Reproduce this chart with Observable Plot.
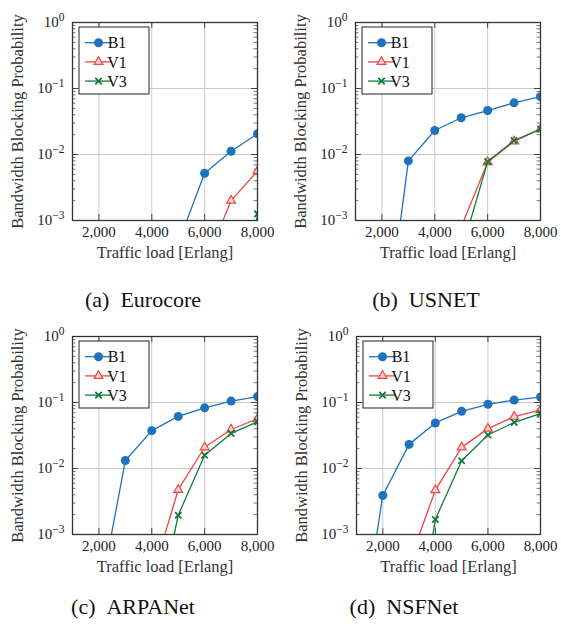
<!DOCTYPE html>
<html><head><meta charset="utf-8">
<script src="https://cdn.jsdelivr.net/npm/d3@7"></script>
<script src="https://cdn.jsdelivr.net/npm/@observablehq/plot@0.6"></script>
</head><body style="margin:0;background:#fff"><div id="root" style="position:relative;width:561px;height:629px;overflow:hidden"></div>
<script>
// ---- data ----
const loads = [1000, 2000, 3000, 4000, 5000, 6000, 7000, 8000];
const seriesNames = ["B1", "V1", "V3"];
const seriesColors = ["#1f72be", "#ef4545", "#137a3a"];
const xTicks = [2000, 4000, 6000, 8000];
const yTicks = [1e-3, 1e-2, 1e-1, 1];
const yMinor = [0.002,0.003,0.004,0.005,0.006,0.007,0.008,0.009,
                0.02,0.03,0.04,0.05,0.06,0.07,0.08,0.09,
                0.2,0.3,0.4,0.5,0.6,0.7,0.8,0.9];

const eurocoreB1 = [null, null, null, null, 4.5e-4, 5.2e-3, 1.12e-2, 2.06e-2];
const eurocoreV1 = [null, null, null, null, null, 2.1e-4, 2.0e-3, 5.6e-3];
const eurocoreV3 = [null, null, null, null, null, null, 1e-6, 1.26e-3];

const usnetB1 = [null, 7e-6, 8.0e-3, 2.31e-2, 3.6e-2, 4.64e-2, 6.07e-2, 7.57e-2];
const usnetV1 = [null, null, null, null, 8e-4, 7.65e-3, 1.58e-2, 2.42e-2];
const usnetV3 = [null, null, null, null, 3.3e-4, 7.8e-3, 1.63e-2, 2.43e-2];

const arpanetB1 = [null, 1e-4, 1.32e-2, 3.74e-2, 6.15e-2, 8.3e-2, 1.05e-1, 1.23e-1];
const arpanetV1 = [null, null, null, 2.2e-4, 4.77e-3, 2.1e-2, 3.9e-2, 5.67e-2];
const arpanetV3 = [null, null, null, 2.4e-5, 1.96e-3, 1.59e-2, 3.4e-2, 5.1e-2];

const nsfnetB1 = [1e-5, 3.9e-3, 2.32e-2, 4.9e-2, 7.36e-2, 9.4e-2, 1.09e-1, 1.21e-1];
const nsfnetV1 = [null, null, 3.7e-4, 4.7e-3, 2.09e-2, 4.02e-2, 6.1e-2, 7.7e-2];
const nsfnetV3 = [null, null, 6e-6, 1.69e-3, 1.31e-2, 3.22e-2, 5.0e-2, 6.8e-2];

const captions = ["(a)\u2002Eurocore", "(b)\u2002USNET", "(c)\u2002ARPANet", "(d)\u2002NSFNet"];
const xLabel = "Traffic load [Erlang]";
const yLabel = "Bandwidth Blocking Probability";

// ---- layout ----
const FONT = '"Liberation Serif", Tinos, "Times New Roman", serif';
const panels = [
  {series:[eurocoreB1, eurocoreV1, eurocoreV3], left:0,   top:0,   ml:72, mr:23, capX:143, capY:300},
  {series:[usnetB1, usnetV1, usnetV3],          left:280, top:0,   ml:75, mr:20, capX:426, capY:300},
  {series:[arpanetB1, arpanetV1, arpanetV3],    left:0,   top:314, ml:72, mr:23, capX:133, capY:607},
  {series:[nsfnetB1, nsfnetV1, nsfnetV3],       left:280, top:314, ml:76, mr:20, capX:404, capY:607}
];

const setFont = el => el.style.setProperty("font-family", FONT, "important");
const root = document.getElementById("root");
setFont(root);
const W = 280, innerH = 198, MT = 22, MB = 52;
const markR = [4.5, 3.3, 3.0];

function seriesMarks(data, i) {
  const c = seriesColors[i];
  const opts = {x: "load", y: "value", clip: true};
  const marks = [Plot.line(data, {...opts, stroke: c, strokeWidth: 1.3})];
  if (i === 0) marks.push(Plot.dot(data, {...opts, r: markR[0], fill: c, stroke: "none"}));
  if (i === 1) marks.push(Plot.dot(data, {...opts, r: markR[1], symbol: "triangle", fill: "#fbd2d2", stroke: c, strokeWidth: 1.2}));
  if (i === 2) marks.push(Plot.dot(data, {...opts, r: markR[2], symbol: "times", stroke: c, strokeWidth: 1.8}));
  return marks;
}

panels.forEach((p, pi) => {
  const innerW = W - p.ml - p.mr;
  const seriesData = p.series.map((vals, si) =>
    vals.map((v, k) => ({series: seriesNames[si], load: loads[k], value: v})).filter(d => d.value != null));
  const chart = Plot.plot({
    width: W, height: MT + innerH + MB,
    marginLeft: p.ml, marginRight: p.mr, marginTop: MT, marginBottom: MB,
    style: {fontFamily: FONT, fontSize: "15px", background: "transparent", overflow: "visible", color: "#222"},
    x: {domain: [1000, 8000]},
    y: {type: "log", domain: [1e-3, 1]},
    marks: [
      Plot.gridX(xTicks, {stroke: "#c9c9c9", strokeOpacity: 1, strokeWidth: 1}),
      Plot.gridY(yTicks, {stroke: "#c9c9c9", strokeOpacity: 1, strokeWidth: 1}),
      Plot.tickY(yMinor, {y: d => d, insetRight: innerW - 3.5, stroke: "#555", strokeWidth: 0.8}),
      Plot.tickY(yMinor, {y: d => d, insetLeft: innerW - 3.5, stroke: "#555", strokeWidth: 0.8}),
      Plot.tickY(yTicks, {y: d => d, insetRight: innerW - 6, stroke: "#444", strokeWidth: 1}),
      Plot.tickY(yTicks, {y: d => d, insetLeft: innerW - 6, stroke: "#444", strokeWidth: 1}),
      Plot.tickX(xTicks, {x: d => d, insetTop: innerH - 6, stroke: "#444", strokeWidth: 1}),
      Plot.tickX(xTicks, {x: d => d, insetBottom: innerH - 6, stroke: "#444", strokeWidth: 1}),
      ...seriesData.flatMap((d, i) => seriesMarks(d, i)),
      Plot.frame({stroke: "#333", strokeWidth: 1.3}),
      Plot.axisX(xTicks, {tickSize: 0, tickPadding: 6, tickFormat: d3.format(","), fontSize: 15, fill: "#222", label: null}),
      Plot.axisY(yTicks, {tickSize: 0, tickPadding: 8, tickFormat: d => "10^" + Math.round(Math.log10(d)), fontSize: 15, fill: "#222", label: null}),
      Plot.text([xLabel], {text: d => d, frameAnchor: "bottom", textAnchor: "middle", dy: 37, fontSize: 16.5, fill: "#333"}),
      Plot.text([yLabel], {text: d => d, frameAnchor: "left", textAnchor: "middle", rotate: -90, dx: -55, fontSize: 16.5, fill: "#333"})
    ]
  });

  const svg = d3.select(chart);
  // superscript exponents
  svg.selectAll('g[aria-label="y-axis tick label"] text').each(function() {
    const parts = this.textContent.split("^");
    this.textContent = parts[0];
    d3.select(this).append("tspan").attr("dy", "-6").attr("font-size", "11.5")
      .text(parts[1].replace("-", "\u2212"));
  });

  // legend
  const lx = p.ml + 7, ly = MT + 5;
  const g = svg.append("g").attr("aria-label", "legend");
  g.append("rect").attr("x", lx).attr("y", ly).attr("width", 70).attr("height", 67)
    .attr("fill", "white").attr("stroke", "#222").attr("stroke-width", 1);
  seriesNames.forEach((name, i) => {
    const yy = ly + 15.7 + i * 19.2;
    const c = seriesColors[i];
    g.append("line").attr("x1", lx + 6).attr("x2", lx + 33).attr("y1", yy).attr("y2", yy)
      .attr("stroke", c).attr("stroke-width", 1.3);
    const types = [d3.symbolCircle, d3.symbolTriangle, d3.symbolTimes];
    const path = d3.symbol(types[i], Math.PI * markR[i] * markR[i])();
    const m = g.append("path").attr("d", path).attr("transform", `translate(${lx + 19.5},${yy})`);
    if (i === 0) m.attr("fill", c);
    if (i === 1) m.attr("fill", "#fbd2d2").attr("stroke", c).attr("stroke-width", 1.2);
    if (i === 2) m.attr("fill", "none").attr("stroke", c).attr("stroke-width", 1.8);
    g.append("text").attr("x", lx + 38).attr("y", yy).attr("dy", "0.35em")
      .attr("font-size", 16).attr("fill", "#111").text(name);
  });

  setFont(chart);
  svg.selectAll("text, tspan").each(function() { setFont(this); this.setAttribute("font-family", FONT); });

  const div = document.createElement("div");
  div.style.position = "absolute";
  div.style.left = p.left + "px";
  div.style.top = p.top + "px";
  div.appendChild(chart);
  root.appendChild(div);

  const cap = document.createElement("div");
  Object.assign(cap.style, {position: "absolute", width: "240px", textAlign: "center", fontSize: "22px",
    lineHeight: "26px", color: "#111", whiteSpace: "pre",
    left: (p.capX - 120) + "px", top: (p.capY - 13) + "px"});
  setFont(cap);
  cap.textContent = captions[pi];
  root.appendChild(cap);
});
</script>
</body></html>
